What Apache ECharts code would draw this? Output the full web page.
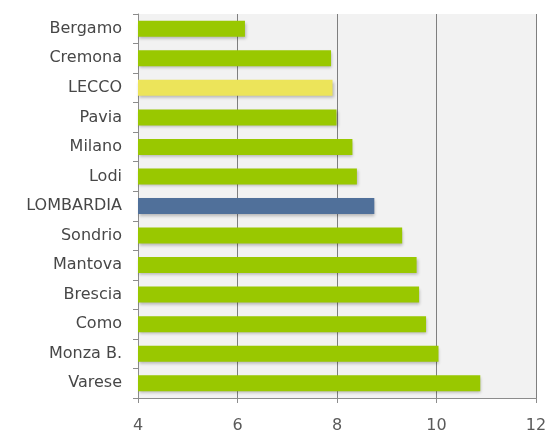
<!DOCTYPE html>
<html>
<head>
<meta charset="utf-8">
<script src="https://cdn.jsdelivr.net/npm/echarts@6/dist/echarts.min.js"></script>
<style>
  html, body { margin: 0; padding: 0; background: #fff; }
  #chart { width: 552px; height: 439px; }
</style>
</head>
<body>
<div id="chart"></div>
<script>
const province = ["Bergamo", "Cremona", "LECCO", "Pavia", "Milano", "Lodi", "LOMBARDIA",
                  "Sondrio", "Mantova", "Brescia", "Como", "Monza B.", "Varese"];
const values   = [6.15, 7.88, 7.91, 7.99, 8.31, 8.40, 8.75, 9.31, 9.60, 9.65, 9.79, 10.04, 10.88];
const xTicks   = [4, 6, 8, 10, 12];

const GREEN  = "#99c800";
const YELLOW = "#ece45a";
const BLUE   = "#50709a";

function barColor(name) {
  if (name === "LECCO") return YELLOW;
  if (name === "LOMBARDIA") return BLUE;
  return GREEN;
}

let chart = echarts.init(document.getElementById("chart"));

chart.setOption({
  animation: false,
  grid: { left: 138, right: 16, top: 14, bottom: 41, show: true, backgroundColor: "#f2f2f2", borderWidth: 0 },
  xAxis: {
    type: "value",
    min: xTicks[0],
    max: xTicks[xTicks.length - 1],
    interval: 2,
    axisLine: { show: true, lineStyle: { color: "#8c8c8c", width: 1 } },
    axisTick: { show: true, length: 5, lineStyle: { color: "#8c8c8c" } },
    axisLabel: { color: "#5a5a5a", fontSize: 16, fontFamily: "DejaVu Sans", margin: 20 },
    splitLine: { show: true, lineStyle: { color: "#7f7f7f", width: 1 } },
  },
  yAxis: {
    type: "category",
    inverse: true,
    data: province,
    axisLine: { show: true, lineStyle: { color: "#8c8c8c", width: 1 } },
    axisTick: { show: true, length: 5, lineStyle: { color: "#8c8c8c" } },
    axisLabel: { color: "#474747", fontSize: 16, fontFamily: "DejaVu Sans", margin: 16 },
    splitLine: { show: false },
  },
  series: [{
    type: "bar",
    data: values.map((v, i) => ({ value: v, itemStyle: { color: barColor(province[i]) } })),
    barWidth: 16,
    itemStyle: {
      shadowColor: "rgba(0,0,0,0.25)",
      shadowBlur: 3,
      shadowOffsetX: 1,
      shadowOffsetY: 2,
    },
  }],
});
</script>
</body>
</html>
